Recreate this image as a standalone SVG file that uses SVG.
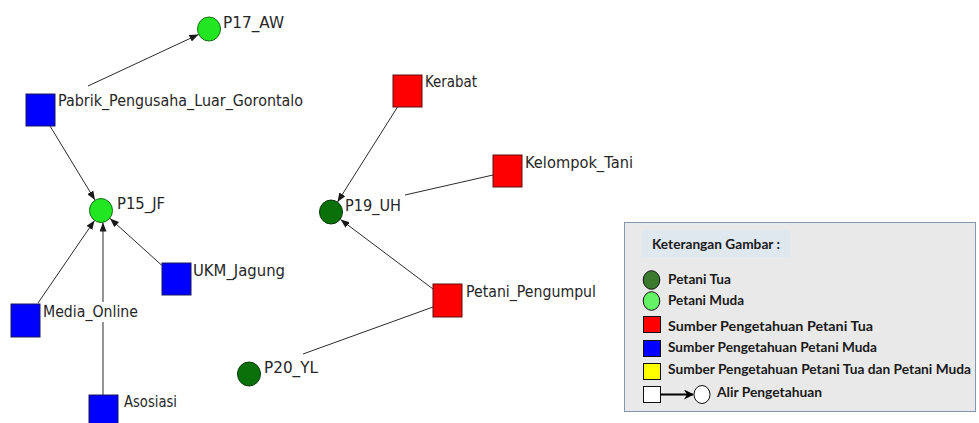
<svg xmlns="http://www.w3.org/2000/svg" width="979" height="423" viewBox="0 0 979 423">
  <style>
    .edge { stroke: #2b2b2b; stroke-width: 1; fill: none; }
    .lbl { font-family: "DejaVu Sans", "Liberation Sans", sans-serif; font-size: 16px; fill: #262626; }
    .sq-blue { fill: #0000ff; stroke: #1a1a5a; stroke-width: 1; }
    .sq-red { fill: #ff0000; stroke: #5a1010; stroke-width: 1; }
    .c-young { fill: #22e622; stroke: #1a6a1a; stroke-width: 1; }
    .c-old { fill: #0a700a; stroke: #0a3a0a; stroke-width: 1; }
    .leg { font-family: "Lato", "Open Sans", "Liberation Sans", sans-serif; font-weight: bold; font-size: 13px; fill: #1a1a1a; }
    .leg-shape { stroke: #111; stroke-width: 1; }
  </style>
  <defs>
    <marker id="arrow" markerUnits="userSpaceOnUse" markerWidth="9" markerHeight="7" refX="9" refY="3.5" orient="auto">
      <path d="M0,0 L9,3.5 L0,7 z" fill="#1a1a1a"/>
    </marker>
    <marker id="arrow-legend" markerUnits="userSpaceOnUse" markerWidth="10" markerHeight="10" refX="9" refY="5" orient="auto">
      <path d="M0,0 L10,5 L0,10 L3,5 z" fill="#000"/>
    </marker>
  </defs>

  <rect width="979" height="423" fill="#ffffff"/>

  <!-- knowledge-flow ties -->
  <g id="edges">
    <path class="edge" d="M88,86 L198.5,34.5" marker-end="url(#arrow)"/>
    <path class="edge" d="M50,126 L95,200" marker-end="url(#arrow)"/>
    <path class="edge" d="M38,303 L94.5,220.5" marker-end="url(#arrow)"/>
    <path class="edge" d="M103,395 L103,322"/>
    <path class="edge" d="M103,302 L103,222.5" marker-end="url(#arrow)"/>
    <path class="edge" d="M162,265.5 L110,218.5" marker-end="url(#arrow)"/>
    <path class="edge" d="M397.5,107 L337.5,202" marker-end="url(#arrow)"/>
    <path class="edge" d="M493,175 L405,195"/>
    <path class="edge" d="M433,289 L340.5,219.5" marker-end="url(#arrow)"/>
    <path class="edge" d="M433,307 L303,354"/>
  </g>

  <g id="node-p17">
    <ellipse class="c-young" cx="209" cy="29" rx="11.5" ry="12"/>
    <text class="lbl" x="223" y="28" textLength="61" lengthAdjust="spacingAndGlyphs">P17_AW</text>
  </g>
  <g id="node-pabrik">
    <rect class="sq-blue" x="26" y="94" width="29" height="32"/>
    <text class="lbl" x="58" y="106" textLength="245" lengthAdjust="spacingAndGlyphs">Pabrik_Pengusaha_Luar_Gorontalo</text>
  </g>
  <g id="node-p15">
    <ellipse class="c-young" cx="101" cy="210.5" rx="11.5" ry="12"/>
    <text class="lbl" x="117" y="209" textLength="48" lengthAdjust="spacingAndGlyphs">P15_JF</text>
  </g>
  <g id="node-ukm">
    <rect class="sq-blue" x="162" y="263" width="29" height="32"/>
    <text class="lbl" x="193" y="276" textLength="92" lengthAdjust="spacingAndGlyphs">UKM_Jagung</text>
  </g>
  <g id="node-media">
    <rect class="sq-blue" x="11" y="304" width="29" height="33"/>
    <text class="lbl" x="43" y="317" textLength="95" lengthAdjust="spacingAndGlyphs">Media_Online</text>
  </g>
  <g id="node-asosiasi">
    <rect class="sq-blue" x="89" y="395" width="29" height="33"/>
    <text class="lbl" x="124" y="407" textLength="53" lengthAdjust="spacingAndGlyphs">Asosiasi</text>
  </g>
  <g id="node-kerabat">
    <rect class="sq-red" x="393" y="75" width="29" height="32"/>
    <text class="lbl" x="425" y="87" textLength="52" lengthAdjust="spacingAndGlyphs">Kerabat</text>
  </g>
  <g id="node-kelompok">
    <rect class="sq-red" x="493" y="155" width="29" height="32"/>
    <text class="lbl" x="525" y="168" textLength="108" lengthAdjust="spacingAndGlyphs">Kelompok_Tani</text>
  </g>
  <g id="node-p19">
    <ellipse class="c-old" cx="331" cy="212" rx="11.5" ry="12"/>
    <text class="lbl" x="345" y="211" textLength="56" lengthAdjust="spacingAndGlyphs">P19_UH</text>
  </g>
  <g id="node-pengumpul">
    <rect class="sq-red" x="433" y="284" width="29" height="33"/>
    <text class="lbl" x="466" y="297" textLength="130" lengthAdjust="spacingAndGlyphs">Petani_Pengumpul</text>
  </g>
  <g id="node-p20">
    <ellipse class="c-old" cx="249" cy="374" rx="11.5" ry="12"/>
    <text class="lbl" x="264" y="373" textLength="54" lengthAdjust="spacingAndGlyphs">P20_YL</text>
  </g>

  <!-- key -->
  <g id="legend">
    <rect x="624.5" y="222.5" width="351" height="189" fill="#e9e9e9" stroke="#8397ab" stroke-width="1"/>
    <rect x="642" y="230" width="148" height="27" fill="#dfe7ef"/>
    <text class="leg" x="652" y="249" font-size="12.5" textLength="128" lengthAdjust="spacingAndGlyphs">Keterangan Gambar :</text>

    <ellipse class="leg-shape" cx="651.5" cy="280" rx="8.3" ry="9.3" fill="#3a7b2e"/>
    <text class="leg" x="668" y="284" textLength="63" lengthAdjust="spacingAndGlyphs">Petani Tua</text>

    <ellipse class="leg-shape" cx="651.5" cy="301" rx="8.3" ry="9.3" fill="#66f266"/>
    <text class="leg" x="668" y="305" textLength="76" lengthAdjust="spacingAndGlyphs">Petani Muda</text>

    <rect class="leg-shape" x="643.5" y="316.5" width="17" height="16" fill="#ff0000"/>
    <text class="leg" x="668" y="331" textLength="205" lengthAdjust="spacingAndGlyphs">Sumber Pengetahuan Petani Tua</text>

    <rect class="leg-shape" x="643.5" y="340.5" width="17" height="16" fill="#0000ff"/>
    <text class="leg" x="668" y="352" textLength="209" lengthAdjust="spacingAndGlyphs">Sumber Pengetahuan Petani Muda</text>

    <rect class="leg-shape" x="643.5" y="363.5" width="17" height="16" fill="#ffff00"/>
    <text class="leg" x="668" y="374" textLength="303" lengthAdjust="spacingAndGlyphs">Sumber Pengetahuan Petani Tua dan Petani Muda</text>

    <rect class="leg-shape" x="643.5" y="386.5" width="17" height="16" fill="#ffffff"/>
    <path d="M660.5,394.5 L693,394.5" stroke="#000" stroke-width="2" fill="none" marker-end="url(#arrow-legend)"/>
    <ellipse class="leg-shape" cx="702" cy="394.5" rx="8" ry="9" fill="#ffffff"/>
    <text class="leg" x="717" y="397" textLength="105" lengthAdjust="spacingAndGlyphs">Alir Pengetahuan</text>
  </g>
</svg>
